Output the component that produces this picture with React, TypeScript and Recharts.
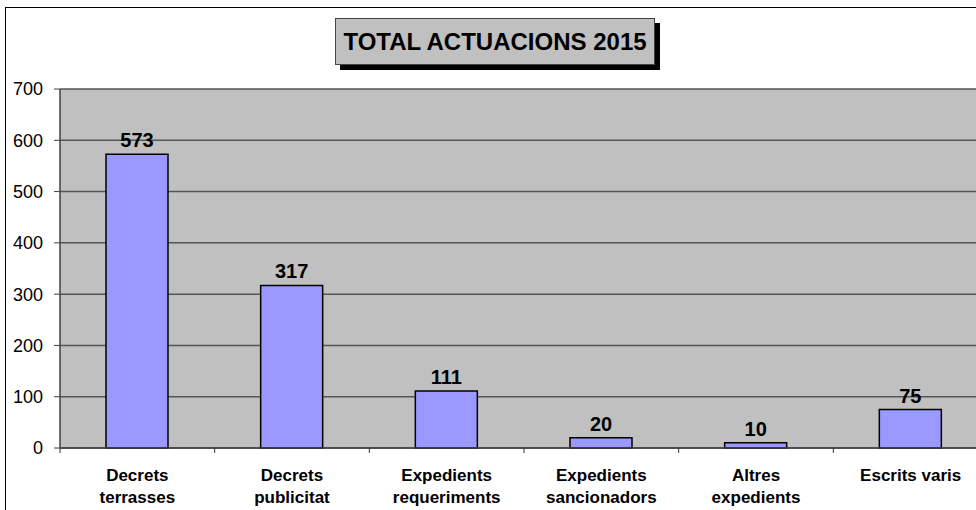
import React from "react";
import {
  BarChart,
  Bar,
  XAxis,
  YAxis,
  CartesianGrid,
  LabelList,
} from "recharts";

// Dades del gràfic
const title = "TOTAL ACTUACIONS 2015";
const categories = [
  "Decrets\nterrasses",
  "Decrets\npublicitat",
  "Expedients\nrequeriments",
  "Expedients\nsancionadors",
  "Altres\nexpedients",
  "Escrits varis",
];
const values = [573, 317, 111, 20, 10, 75];
const yTicks = [0, 100, 200, 300, 400, 500, 600, 700];

const FONT = "'Liberation Sans', Arial, sans-serif";
const CHART_W = 1010;
const CHART_H = 520;
const MARGIN = { top: 81, right: 28, left: 0, bottom: 0 };
const Y_AXIS_W = 54;
const PLOT_W = CHART_W - MARGIN.left - MARGIN.right - Y_AXIS_W;

const data = categories.map((name, i) => ({ name, value: values[i] }));

// tick de categoria: marca a la vora esquerra de la banda i text en dues línies
const CategoryTick = (props: any) => {
  const { x, y, payload } = props;
  const band = PLOT_W / categories.length;
  const lines = String(payload.value).split("\n");
  return (
    <g>
      <line x1={x - band / 2} y1={y} x2={x - band / 2} y2={y + 5} stroke="#333" strokeWidth={1} />
      {lines.map((ln, i) => (
        <text
          key={i}
          x={x}
          y={y + 33 + i * 22}
          textAnchor="middle"
          fontFamily={FONT}
          fontSize={17}
          fontWeight="bold"
          fill="#000"
        >
          {ln}
        </text>
      ))}
    </g>
  );
};

export default function App() {
  return (
    <div
      style={{
        position: "fixed",
        left: 0,
        top: 0,
        width: 976,
        height: 510,
        overflow: "hidden",
        background: "#fff",
      }}
    >
      <div
        style={{
          position: "absolute",
          left: 5,
          top: 7,
          width: CHART_W,
          height: CHART_H,
          border: "1px solid #000",
          background: "#fff",
        }}
      >
        <BarChart
          width={CHART_W}
          height={CHART_H}
          data={data}
          margin={MARGIN}
          barSize={62}
        >
          <CartesianGrid
            vertical={false}
            fill="#C0C0C0"
            fillOpacity={1}
            stroke="#555"
            strokeWidth={1.5}
          />
          <XAxis
            dataKey="name"
            interval={0}
            height={80}
            tickLine={false}
            tickSize={0}
            tickMargin={0}
            axisLine={{ stroke: "#404040", strokeWidth: 1.5 }}
            tick={<CategoryTick />}
          />
          <YAxis
            width={Y_AXIS_W}
            domain={[0, 700]}
            ticks={yTicks}
            interval={0}
            tickSize={6}
            tickMargin={11}
            axisLine={{ stroke: "#404040", strokeWidth: 1.5 }}
            tickLine={{ stroke: "#404040" }}
            tick={{ fill: "#000", fontSize: 18, fontFamily: FONT }}
          />
          <Bar
            dataKey="value"
            fill="#9999FF"
            stroke="#000"
            strokeWidth={1.5}
            isAnimationActive={false}
          >
            <LabelList
              dataKey="value"
              position="top"
              offset={7}
              fill="#000"
              fontSize={20}
              fontWeight="bold"
              fontFamily={FONT}
            />
          </Bar>
        </BarChart>
      </div>
      <div
        style={{
          position: "absolute",
          left: 335,
          top: 18,
          width: 318,
          height: 45,
          border: "1px solid #444",
          background: "#C0C0C0",
          boxShadow: "5px 5px 0 #000",
          display: "flex",
          alignItems: "center",
          justifyContent: "center",
          fontFamily: FONT,
          fontWeight: "bold",
          fontSize: 24,
          color: "#000",
          whiteSpace: "nowrap",
        }}
      >
        {title}
      </div>
    </div>
  );
}
